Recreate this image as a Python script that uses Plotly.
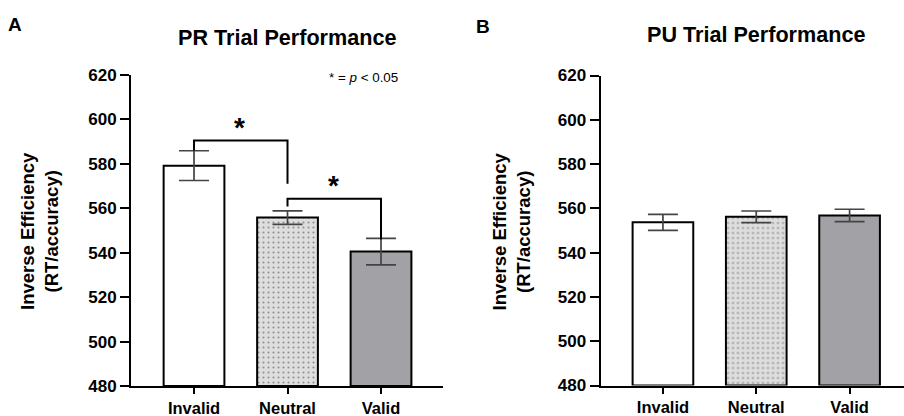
import plotly.graph_objects as go

categories = ["Invalid", "Neutral", "Valid"]
pr_means = [579.2, 555.8, 540.5]
pr_sem = [6.7, 3.0, 6.0]
pu_means = [553.7, 556.2, 556.8]
pu_sem = [3.6, 2.6, 2.8]
y_ticks = [480, 500, 520, 540, 560, 580, 600, 620]

# significance brackets (PR panel): (x_left, y_left_end, x_right, y_right_end, y_top)
brackets = [(0, 586.0, 1, 571.0, 590.5), (1, 560.8, 2, 546.0, 564.3)]
star_pos = [(0.49, 597.5), (1.49, 571.5)]

fills = ["#ffffff", "#dedede", "#a2a2a6"]
patterns = ["", ".", ""]
FONT = "Liberation Sans, Arial, sans-serif"

# layout designed for a 904x416 page (figure resized to the full window after load)
W, H = 904, 416
def px(X):
    return X / W
def py(Y):
    return 1 - Y / H

fig = go.Figure()

def add_bars(means, sem, xa, ya):
    fig.add_trace(go.Bar(
        x=categories, y=[m - 480 for m in means], base=480,
        xaxis=xa, yaxis=ya, width=0.65,
        marker=dict(color=fills, line=dict(color="black", width=2),
                    pattern=dict(shape=patterns, fgcolor="#777777", bgcolor="#dedede",
                                 size=5, solidity=0.15)),
        error_y=dict(type="data", array=sem, color="#444444", thickness=1.7, width=15),
        showlegend=False, hoverinfo="skip"))

add_bars(pr_means, pr_sem, "x", "y")
add_bars(pu_means, pu_sem, "x2", "y2")

axis_common = dict(showline=True, linecolor="black", linewidth=2, ticks="outside",
                   tickwidth=2, tickcolor="black", showgrid=False, zeroline=False,
                   automargin=False)
y_style = dict(ticklen=9, tickfont=dict(family=FONT, size=17, color="black", weight="bold"), **axis_common)
x_style = dict(ticklen=6, tickfont=dict(family=FONT, size=16.5, color="black", weight="bold"), **axis_common)

fig.update_layout(
    width=888, height=400, margin=dict(l=0, r=0, t=0, b=0, autoexpand=False),
    paper_bgcolor="white", plot_bgcolor="white",
    xaxis=dict(domain=[px(131), px(443)], range=[-0.674, 2.663], anchor="y", **x_style),
    yaxis=dict(domain=[py(386), py(75)], range=[480, 620], tickvals=y_ticks, anchor="x", **y_style),
    xaxis2=dict(domain=[px(600.5), px(904)], range=[-0.669, 2.583], anchor="y2", **x_style),
    yaxis2=dict(domain=[py(385.5), py(75.5)], range=[480, 620], tickvals=y_ticks, anchor="x2", **y_style),
)

for (xl, yl, xr, yr, yt) in brackets:
    fig.add_shape(type="path", xref="x", yref="y",
                  path=f"M {xl} {yl} L {xl} {yt} L {xr} {yt} L {xr} {yr}",
                  line=dict(color="black", width=2))
for (sx, sy) in star_pos:
    fig.add_annotation(x=sx, y=sy, xref="x", yref="y", text="<b>*</b>", showarrow=False,
                       font=dict(family=FONT, size=28, color="black"), yshift=-3)

ann = [
    dict(x=15, y=24, text="<b>A</b>", size=19),
    dict(x=483, y=26, text="<b>B</b>", size=19),
    dict(x=287, y=37.5, text="<b>PR Trial Performance</b>", size=21.6),
    dict(x=756, y=34, text="<b>PU Trial Performance</b>", size=21.6),
    dict(x=363.5, y=77, text="* = <i>p</i> < 0.05", size=13.4),
]
for a in ann:
    fig.add_annotation(x=px(a["x"]), y=py(a["y"]), xref="paper", yref="paper",
                       text=a["text"], showarrow=False, xanchor="center", yanchor="middle",
                       font=dict(family=FONT, size=a["size"], color="black"))

for cx in (39, 510.5):
    fig.add_annotation(x=px(cx), y=py(231), xref="paper", yref="paper",
                       text="<b>Inverse Efficiency<br>(RT/accuracy)</b>", showarrow=False,
                       textangle=-90, xanchor="center", yanchor="middle",
                       font=dict(family=FONT, size=18.5, color="black"))

js = """
document.body.style.margin='0';
document.body.style.overflow='hidden';
var gd=document.getElementById('{plot_id}');
Plotly.relayout(gd, {width: 904, height: 416});
"""
fig.write_html("out.html", config={"displayModeBar": False}, post_script=js)
